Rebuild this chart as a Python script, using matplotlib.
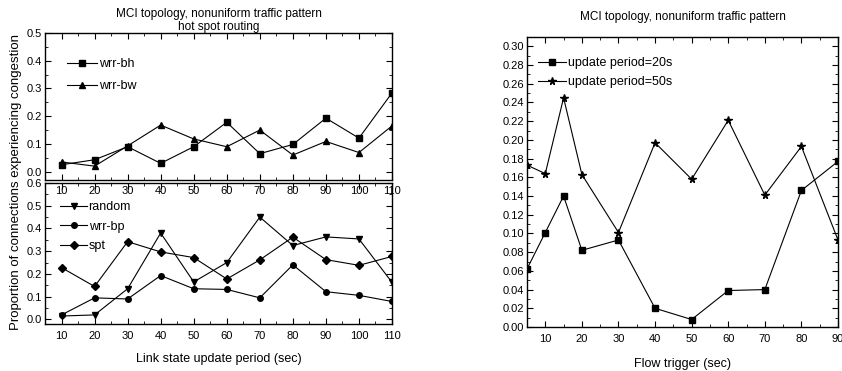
import matplotlib
matplotlib.use("Agg")
import matplotlib.pyplot as plt
from matplotlib.ticker import MultipleLocator

plt.rcParams["font.family"] = ["Liberation Sans Narrow", "Liberation Sans", "DejaVu Sans"]

# hot spot routing (top-left panel)
period = [10, 20, 30, 40, 50, 60, 70, 80, 90, 100, 110]
wrr_bh = [0.025, 0.043, 0.09, 0.03, 0.09, 0.178, 0.065, 0.098, 0.193, 0.121, 0.284]
wrr_bw = [0.035, 0.02, 0.093, 0.168, 0.118, 0.09, 0.15, 0.06, 0.109, 0.069, 0.165]

# bottom-left panel
random_r = [0.015, 0.02, 0.135, 0.38, 0.165, 0.25, 0.45, 0.325, 0.363, 0.354, 0.163]
wrr_bp = [0.02, 0.095, 0.09, 0.193, 0.135, 0.132, 0.095, 0.24, 0.122, 0.106, 0.079]
spt = [0.228, 0.145, 0.342, 0.297, 0.272, 0.178, 0.262, 0.362, 0.263, 0.238, 0.277]

# right panel: flow trigger
trigger = [5, 10, 15, 20, 30, 40, 50, 60, 70, 80, 90]
upd20 = [0.062, 0.101, 0.14, 0.082, 0.093, 0.02, 0.008, 0.039, 0.04, 0.146, 0.177]
upd50 = [0.173, 0.164, 0.245, 0.163, 0.101, 0.197, 0.158, 0.221, 0.141, 0.193, 0.093]

FS = 8
LW = 0.8
MS = 4


def style(ax):
    ax.tick_params(which="both", direction="in", top=True, right=True,
                   labelsize=FS, pad=2)
    ax.tick_params(which="major", length=4)
    ax.tick_params(which="minor", length=2)
    for s in ax.spines.values():
        s.set_linewidth(1.0)


fig = plt.figure(figsize=(8.42, 3.71), dpi=100)
W, H = 842, 371


def axes_px(x0, y0, x1, y1):
    return fig.add_axes([x0 / W, 1 - y1 / H, (x1 - x0) / W, (y1 - y0) / H])


# top-left
ax1 = axes_px(45, 33, 392, 180)
ax1.plot(period, wrr_bh, "k-s", lw=LW, ms=MS, label="wrr-bh")
ax1.plot(period, wrr_bw, "k-^", lw=LW, ms=MS + 0.5, label="wrr-bw")
ax1.set_xlim(5, 110)
ax1.set_ylim(-0.03, 0.5)
ax1.set_xticks(period)
ax1.xaxis.set_minor_locator(MultipleLocator(5))
ax1.yaxis.set_major_locator(MultipleLocator(0.1))
ax1.yaxis.set_minor_locator(MultipleLocator(0.05))
ax1.yaxis.set_major_formatter(lambda v, p: f"{v:.1f}")
style(ax1)
ax1.tick_params(axis="x", pad=4)
ax1.legend(loc="upper left", bbox_to_anchor=(0.032, 0.907), frameon=False,
           fontsize=FS + 1, handlelength=2.4, handletextpad=0.15, labelspacing=0.84)
ax1.set_title("MCI topology, nonuniform traffic pattern\nhot spot routing",
              fontsize=FS + 0.5, pad=2, linespacing=1.15)

# bottom-left
ax2 = axes_px(45, 183, 392, 324)
ax2.plot(period, random_r, "k-v", lw=LW, ms=MS + 0.5, label="random")
ax2.plot(period, wrr_bp, "k-o", lw=LW, ms=MS, label="wrr-bp")
ax2.plot(period, spt, "k-D", lw=LW, ms=MS - 0.3, label="spt")
ax2.set_xlim(5, 110)
ax2.set_ylim(-0.02, 0.6)
ax2.set_xticks(period)
ax2.xaxis.set_minor_locator(MultipleLocator(5))
ax2.yaxis.set_major_locator(MultipleLocator(0.1))
ax2.yaxis.set_minor_locator(MultipleLocator(0.05))
ax2.yaxis.set_major_formatter(lambda v, p: f"{v:.1f}")
style(ax2)
ax2.tick_params(axis="x", pad=5)
ax2.legend(loc="upper left", bbox_to_anchor=(0.012, 0.95), frameon=False,
           fontsize=FS + 1, handlelength=2.1, handletextpad=0.15, labelspacing=0.6)
ax2.set_xlabel("Link state update period (sec)", fontsize=FS + 1, labelpad=9)
ax2.set_zorder(0)
ax1.set_zorder(1)
ax1.patch.set_alpha(0)

fig.text(16 / W, 1 - 182 / H, "Proportion of connections experiencing congestion",
         rotation=90, ha="center", va="center", fontsize=FS + 1.5)

# right
ax3 = axes_px(527, 37, 838, 327)
ax3.plot(trigger, upd20, "k-s", lw=LW, ms=MS, label="update period=20s")
ax3.plot(trigger, upd50, "k-*", lw=LW, ms=MS + 1.5, label="update period=50s")
ax3.set_xlim(5, 90)
ax3.set_ylim(0, 0.31)
ax3.set_xticks([10, 20, 30, 40, 50, 60, 70, 80, 90])
ax3.xaxis.set_minor_locator(MultipleLocator(5))
ax3.yaxis.set_major_locator(MultipleLocator(0.02))
ax3.yaxis.set_minor_locator(MultipleLocator(0.01))
ax3.yaxis.set_major_formatter(lambda v, p: f"{v:.2f}")
style(ax3)
ax3.tick_params(axis="x", pad=5)
ax3.legend(loc="upper left", bbox_to_anchor=(0.0, 0.969), frameon=False,
           fontsize=FS + 1, handlelength=2.2, handletextpad=0.15, labelspacing=0.55)
ax3.set_xlabel("Flow trigger (sec)", fontsize=FS + 1, labelpad=10)
ax3.set_title("MCI topology, nonuniform traffic pattern", fontsize=FS + 0.5, pad=12)

fig.savefig("out.png", dpi=100)
